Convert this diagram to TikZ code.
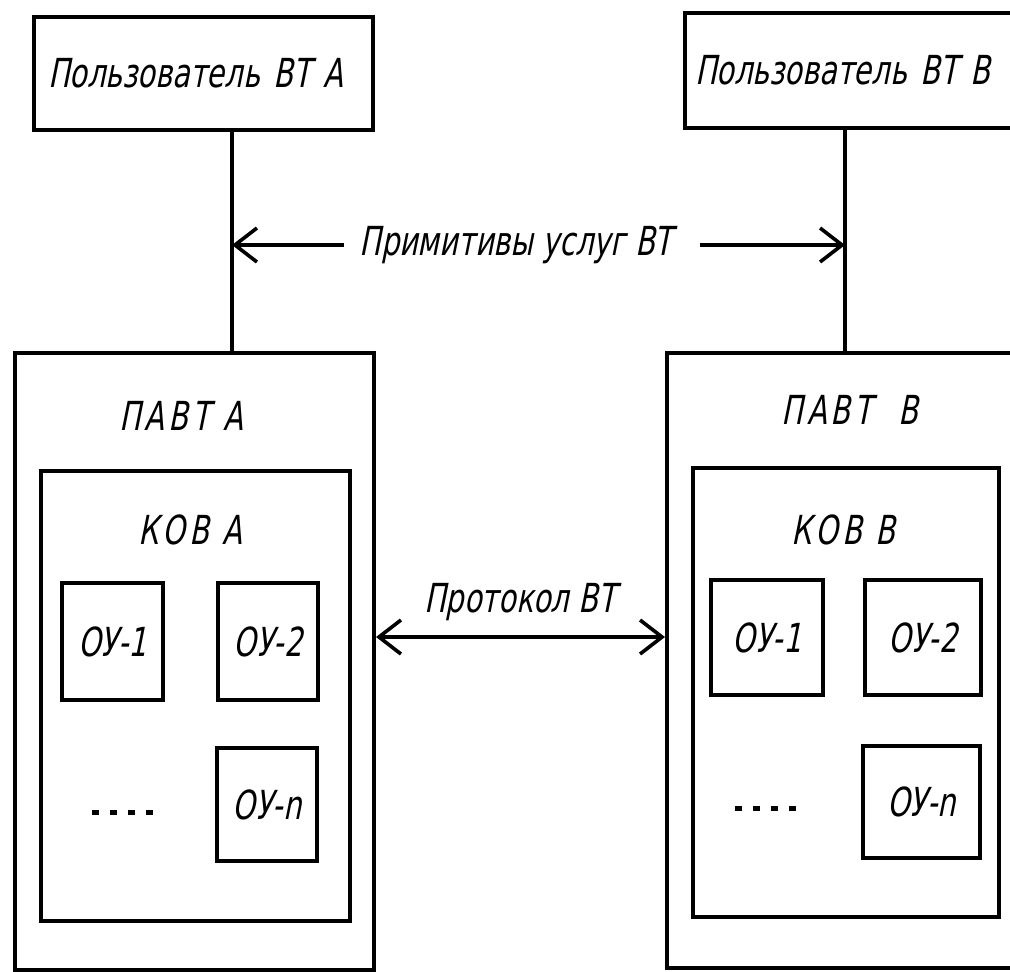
\documentclass[tikz,border=0pt]{standalone}
\usepackage{fontspec}
\newfontfamily\gost[FakeSlant=0.2,FakeStretch=0.8]{DejaVu Sans Condensed}
\newfontfamily\gostwide[FakeSlant=0.2,FakeStretch=0.8,LetterSpace=10]{DejaVu Sans Condensed}
\usepackage{tikz}
\usetikzlibrary{arrows.meta}

\tikzset{
  box/.style={draw, line width=2pt, inner sep=0pt},
  lbl/.style={font=\gost\fontsize{20}{22}\selectfont, inner sep=0pt},
  widelbl/.style={font=\gostwide\fontsize{20}{22}\selectfont, inner sep=0pt},
  wire/.style={line width=2pt},
  arr/.style={-{Straight Barb[length=11pt,width=17pt]}, line width=1.8pt},
  arrboth/.style={{Straight Barb[length=11pt,width=17pt]}-{Straight Barb[length=11pt,width=17pt]}, line width=1.8pt},
  dots/.style={line width=2.5pt, dash pattern=on 3.5pt off 5.5pt}
}

\begin{document}
\begin{tikzpicture}[x=0.5pt,y=-0.5pt]
\useasboundingbox (0,0) rectangle (1010,971);
% users
\node (userA) [box, lbl, minimum width=169.5pt, minimum height=56.5pt, text width=155.5pt, align=left] at (203.5,73.5) {Пользователь ВТ А};
\node (userB) [box, lbl, minimum width=170pt, minimum height=57.5pt, text width=160pt, align=left] at (855,70.5) {Пользователь ВТ В};
% PAVT
\node (pavtA) [box, minimum width=179.5pt, minimum height=308.5pt] at (194.5,661.5) {};
\node (pavtB) [box, minimum width=180pt, minimum height=307.5pt] at (847,660.5) {};
\node (pavtAlbl) [widelbl] at (181,416) {ПАВТ А};
\node (pavtBlbl) [widelbl] at (850,410) {ПАВТ~~В};
% KOV
\node (kovA) [box, minimum width=154.5pt, minimum height=225pt] at (195.5,696) {};
\node (kovB) [box, minimum width=153pt, minimum height=224.5pt] at (846,692.5) {};
\node (kovAlbl) [widelbl] at (190,530) {КОВ А};
\node (kovBlbl) [widelbl] at (843,530) {КОВ В};
% OU
\node (ou1A) [box, lbl, minimum width=50.5pt, minimum height=58.5pt] at (112.5,641.5) {ОУ-1};
\node (ou2A) [box, lbl, minimum width=50pt, minimum height=58.5pt] at (268,641.5) {ОУ-2};
\node (ounA) [box, lbl, minimum width=50pt, minimum height=56.5pt] at (267,804.5) {ОУ-n};
\node (ou1B) [box, lbl, minimum width=56pt, minimum height=57.5pt] at (767,637.5) {ОУ-1};
\node (ou2B) [box, lbl, minimum width=58pt, minimum height=57.5pt] at (923,637.5) {ОУ-2};
\node (ounB) [box, lbl, minimum width=58.5pt, minimum height=56pt] at (921.5,802) {ОУ-n};
\draw [dots] (92,812) -- (153,812);
\draw [dots] (735,808) -- (797,808);
% links
\coordinate (linkA) at (232,0);
\coordinate (linkB) at (845,0);
\draw [wire] (userA.south -| linkA) -- (pavtA.north -| linkA);
\draw [wire] (userB.south -| linkB) -- (pavtB.north -| linkB);
\node (prim) [lbl] at (516,245) {Примитивы услуг ВТ};
\draw [arr] ([xshift=-7.5pt]prim.west) -- (prim.west -| linkA);
\draw [arr] ([xshift=13.5pt]prim.east) -- (prim.east -| linkB);
\node (proto) [lbl] at (520,602) {Протокол ВТ};
\coordinate (protoY) at (0,637);
\draw [arrboth] (pavtA.east |- protoY) -- (pavtB.west |- protoY);
\end{tikzpicture}
\end{document}
